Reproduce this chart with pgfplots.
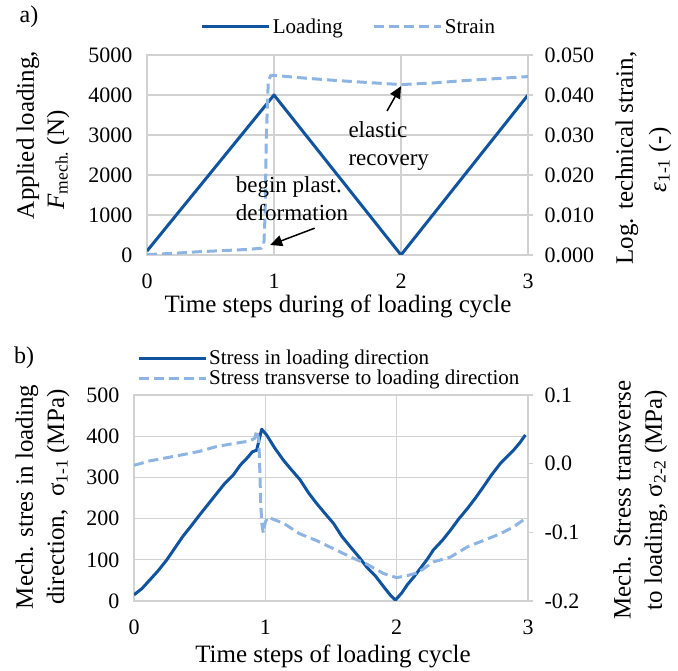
\documentclass[border=0pt]{standalone}
\usepackage{fontspec}
\setmainfont{Liberation Serif}
\usepackage{pgfplots}
\pgfplotsset{compat=1.18}
\usetikzlibrary{arrows.meta}
\definecolor{dblue}{RGB}{16,84,160}
\definecolor{lblue}{RGB}{141,180,226}
\definecolor{gridgray}{RGB}{210,210,210}

\pgfplotsset{
  base/.style={
    scale only axis,
    xmin=0, xmax=3,
    scaled y ticks=false,
    /pgf/number format/assume math mode=true,
    /pgf/number format/1000 sep={},
    tick label style={font=\fontsize{22}{26}\selectfont},
    axis line style={gridgray, line width=1.2pt},
    legend image code/.code={\draw[##1] (0pt,0pt) -- (67pt,0pt);},
  },
  leftax/.style={base,
    xtick={0,1,2,3},
    grid=major,
    major grid style={gridgray, line width=1.2pt},
    major tick length=0pt,
    xticklabel style={yshift=-15pt},
    yticklabel style={xshift=-11pt},
  },
  rightax/.style={base,
    axis y line*=right, axis x line=none,
    tick align=outside, major tick length=5pt,
    major tick style={gridgray, line width=1.2pt},
    yticklabel style={xshift=8pt},
  },
  solidline/.style={dblue, line width=3pt, line join=round},
  dashline/.style={lblue, line width=3pt, dash pattern=on 10pt off 5pt, line join=round},
}

\begin{document}
\begin{tikzpicture}
\useasboundingbox (0pt,0pt) rectangle (678pt,671pt);

% ---------------- panel a ----------------
\begin{axis}[leftax, at={(147pt,416pt)}, width=381pt, height=200pt,
  ymin=0, ymax=5000, ytick={0,1000,2000,3000,4000,5000}]
\addplot[solidline] coordinates {(0,100) (1,4000) (2,0) (3,4000)};
\draw[-{Triangle[length=12pt,width=11pt]}, line width=1.5pt] (axis cs:1.32,670) -- (axis cs:0.97,250);
\draw[-{Triangle[length=12pt,width=11pt]}, line width=1.5pt] (axis cs:1.89,3600) -- (axis cs:2.0,4220);
\end{axis}
\begin{axis}[rightax, at={(147pt,416pt)}, width=381pt, height=200pt,
  ymin=0, ymax=0.05, ytick={0,0.01,0.02,0.03,0.04,0.05},
  yticklabel style={/pgf/number format/fixed, /pgf/number format/fixed zerofill, /pgf/number format/precision=3},
  legend columns=2,
  legend style={draw=none, fill=none, at={(axis description cs:0.53,1.14)}, anchor=center,
    font=\fontsize{21}{25}\selectfont,
    /tikz/every even column/.append style={column sep=28pt}}]
\addlegendimage{solidline}
\addlegendentry{Loading}
\addplot[dashline] coordinates {
  (0,0.0001) (0.2,0.0004) (0.4,0.0008) (0.6,0.0011) (0.8,0.0014) (0.9,0.0017)
  (0.92,0.0025) (0.93,0.01) (0.94,0.03) (0.955,0.0435) (0.975,0.0449) (1.0,0.0449)
  (1.25,0.0442) (1.5,0.0436) (1.75,0.0431) (2.0,0.0426) (2.25,0.0430) (2.5,0.0436)
  (2.75,0.0441) (3.0,0.0446)};
\addlegendentry{Strain}
\end{axis}

\node[font=\fontsize{24}{28}\selectfont] at (29pt,654pt) {a)};
\node[font=\fontsize{25}{30}\selectfont, anchor=base] at (338pt,358pt) {Time steps during of loading cycle};
\node[font=\fontsize{25}{30}\selectfont, rotate=90] at (28pt,536pt) {Applied loading,};
\node[font=\fontsize{25}{30}\selectfont, rotate=90] at (58pt,511pt) {\textit{F}\textsubscript{mech.} (N)};
\node[font=\fontsize{25}{30}\selectfont, rotate=90] at (627pt,513pt) {Log. technical strain,};
\node[font=\fontsize{25}{30}\selectfont, rotate=90] at (660pt,511pt) {\textit{ε}\textsubscript{1-1} (-)};
\node[font=\fontsize{23}{28}\selectfont, align=left] at (292pt,472pt) {begin plast.\\deformation};
\node[font=\fontsize{23}{28}\selectfont, align=left, anchor=west] at (345pt,525pt) {elastic\\recovery};

% ---------------- panel b ----------------
\begin{axis}[leftax, at={(134pt,70pt)}, width=394pt, height=206pt,
  ymin=0, ymax=500, ytick={0,100,200,300,400,500}]
\addplot[solidline] coordinates {
  (0,15) (0.06,30) (0.12,51) (0.18,72) (0.25,100) (0.31,128) (0.37,156) (0.43,180)
  (0.5,209) (0.56,233) (0.63,261) (0.69,285) (0.756,306) (0.81,330) (0.87,350)
  (0.90,362) (0.934,366) (0.972,417) (1.01,403) (1.07,372) (1.137,342) (1.2,318)
  (1.265,294) (1.33,262) (1.39,237) (1.45,214) (1.52,188) (1.58,158) (1.646,132)
  (1.71,108) (1.77,83) (1.84,60) (1.90,35) (1.95,15) (1.99,2) (2.04,20) (2.08,39)
  (2.13,58) (2.18,79) (2.23,100) (2.28,124) (2.35,148) (2.41,172) (2.47,198)
  (2.54,225) (2.60,250) (2.66,277) (2.72,305) (2.79,334) (2.84,350) (2.89,366)
  (2.94,385) (2.98,403)};
\end{axis}
\begin{axis}[rightax, at={(134pt,70pt)}, width=394pt, height=206pt,
  ymin=-0.2, ymax=0.1, ytick={-0.2,-0.1,0,0.1},
  yticklabel style={/pgf/number format/fixed, /pgf/number format/fixed zerofill, /pgf/number format/precision=1},
  legend cell align=left,
  legend style={draw=none, fill=none, at={(axis description cs:0,1.13)}, anchor=west,
    font=\fontsize{21}{25}\selectfont}]
\addlegendimage{solidline}
\addlegendentry{Stress in loading direction}
\addplot[dashline] coordinates {
  (0,-0.0024) (0.12,0.004) (0.25,0.0087) (0.37,0.013) (0.5,0.018) (0.63,0.025)
  (0.75,0.029) (0.88,0.033) (0.92,0.037) (0.934,0.0485) (0.95,0.035) (0.955,0.01)
  (0.96,-0.024) (0.965,-0.06) (0.975,-0.09) (0.985,-0.101) (1.0,-0.085) (1.02,-0.078)
  (1.14,-0.087) (1.26,-0.102) (1.39,-0.112) (1.52,-0.124) (1.65,-0.136) (1.77,-0.146)
  (1.90,-0.160) (2.0,-0.166) (2.08,-0.163) (2.16,-0.159) (2.28,-0.143) (2.41,-0.136)
  (2.54,-0.121) (2.66,-0.112) (2.79,-0.102) (2.89,-0.092) (2.98,-0.080)};
\addlegendentry{Stress transverse to loading direction}
\end{axis}

\node[font=\fontsize{24}{28}\selectfont] at (24pt,313pt) {b)};
\node[font=\fontsize{25}{30}\selectfont, anchor=base] at (333pt,8pt) {Time steps of loading cycle};
\node[font=\fontsize{25}{30}\selectfont, rotate=90] at (27pt,174pt) {Mech. stres in loading};
\node[font=\fontsize{25}{30}\selectfont, rotate=90] at (58pt,174pt) {direction,\ \ σ\textsubscript{1-1} (MPa)};
\node[font=\fontsize{25}{30}\selectfont, rotate=90] at (622pt,171pt) {Mech. Stress transverse};
\node[font=\fontsize{25}{30}\selectfont, rotate=90] at (656pt,171pt) {to loading, σ\textsubscript{2-2} (MPa)};
\end{tikzpicture}
\end{document}
